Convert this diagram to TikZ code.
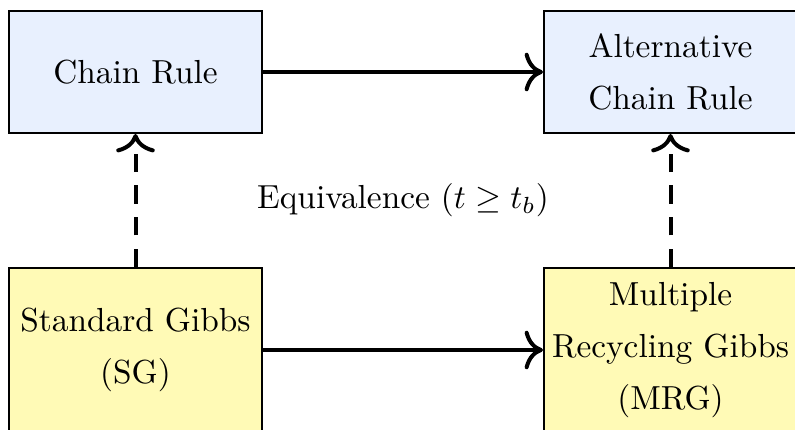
\documentclass[tikz,border=0pt]{standalone}
\usepackage{amsmath}
\usepackage{amssymb}
\usepackage{tikz}
\usetikzlibrary{arrows.meta, positioning}
\definecolor{mydark}{RGB}{0,0,0}
\definecolor{hdrblue}{RGB}{232,240,254}
\definecolor{hdryellow}{RGB}{255,250,182}
\tikzset{
  topblock/.style={rectangle, draw=mydark, fill=hdrblue,
    minimum width=75.9pt, minimum height=36.6pt, align=center,
    font=\linespread{1.3}\selectfont, inner sep=0pt, line width=0.6pt},
  lowblock/.style={rectangle, draw=mydark, fill=hdryellow,
    minimum width=75.9pt, minimum height=49.2pt, align=center,
    font=\linespread{1.3}\selectfont, inner sep=0pt, line width=0.6pt},
  arrow/.style={-{Computer Modern Rightarrow[scale=1.3]},
    line width=1.2pt, color=mydark},
  dasharrow/.style={-{Computer Modern Rightarrow[scale=1.3]},
    line width=1.2pt, color=mydark, dash pattern=on 5.5pt off 4pt}
}

\begin{document}
\begin{tikzpicture}[x=1pt, y=1pt]
  \useasboundingbox (0,0) rectangle (238.5,-128.7);
  \clip (0,0) rectangle (238.5,-128.7);

  % --- upper row ---
  \node[topblock] (chain) at (40.65,-21.6) {Chain Rule};
  \node[topblock] (altchain) at (201.15,-21.6) {Alternative\\Chain Rule};

  % --- lower row (runs past the page edge) ---
  \node[lowblock] (sg) at (40.65,-105) {Standard Gibbs\\(SG)};
  \node[lowblock] (mrg) at (201.15,-105) {Multiple\\Recycling Gibbs\\(MRG)};

  \node (equiv) at (120.9,-60) {Equivalence $(t \geq t_b)$};

  \draw[arrow] (chain) -- (altchain);
  \draw[arrow] (sg) -- (mrg);
  \draw[dasharrow] (sg) -- (chain); % Dashed
  \draw[dasharrow] (mrg) -- (altchain); % Dashed
\end{tikzpicture}
\end{document}
